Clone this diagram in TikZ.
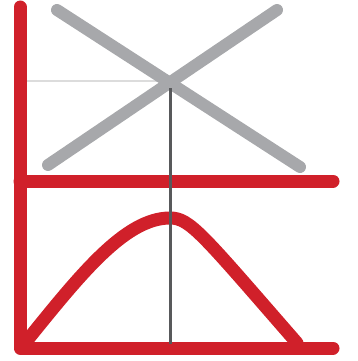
\documentclass[tikz,border=0pt]{standalone}
\definecolor{axred}{HTML}{D0202A}
\definecolor{xgray}{HTML}{A7A8AB}
\definecolor{dgray}{HTML}{58595B}
\definecolor{lgray}{HTML}{DCDCDC}
\begin{document}
\begin{tikzpicture}[x=1pt,y=-1pt,
  redline/.style={draw=axred,line width=13pt,line cap=round,line join=round},
  grayline/.style={draw=xgray,line width=12pt,line cap=round},
  guide/.style={draw=lgray,line width=2pt},
  marker/.style={draw=dgray,line width=3pt}]
\useasboundingbox (0,0) rectangle (357,361);
\coordinate (top) at (20,7);
\coordinate (origin) at (20,348);
\coordinate (bend) at (333,348);
\coordinate (midL) at (20,181);
\coordinate (midR) at (333,181);
\coordinate (g1a) at (57,10);
\coordinate (g1b) at (300,167);
\coordinate (g2a) at (48,165);
\coordinate (g2b) at (277,10);
\coordinate (hl) at (26,81);
\coordinate (hr) at (166,81);
\coordinate (vt) at (170,88);
\coordinate (vb) at (170,344);
\coordinate (c0) at (25,343);
\coordinate (peak) at (170,218);
\coordinate (c1) at (297,343);
\draw[guide] (hl) -- (hr);
\draw[grayline] (g1a) -- (g1b);
\draw[grayline] (g2a) -- (g2b);
\draw[redline] (top) -- (origin) -- (bend);
\draw[redline] (midL) -- (midR);
\draw[redline] (c0) .. controls (80,275) and (125,218) .. (peak)
  .. controls (190,218) and (202,234) .. (c1);
\draw[marker] (vt) -- (vb);
\end{tikzpicture}
\end{document}
